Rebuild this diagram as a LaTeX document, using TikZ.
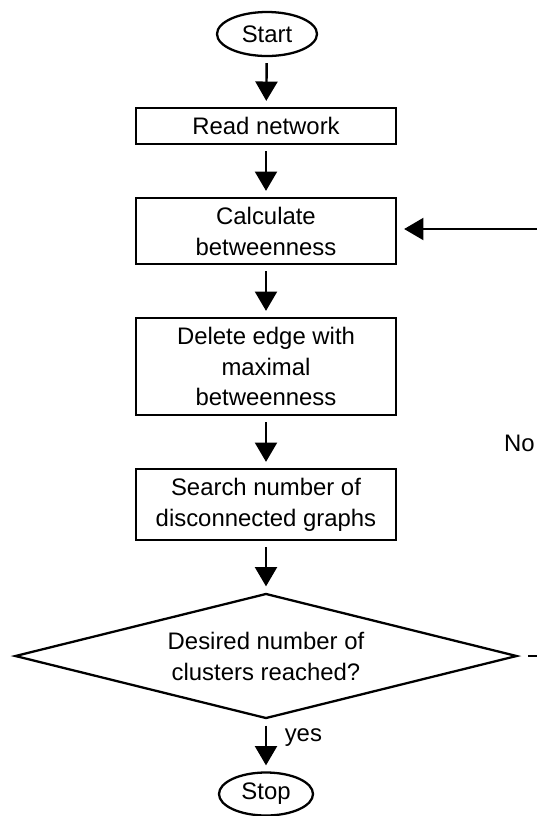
\documentclass[tikz,border=0pt]{standalone}
\usepackage{fontspec}
\setmainfont{Liberation Sans}
\usepackage{tikz}
\usetikzlibrary{positioning, arrows.meta, shapes.geometric}
\def\px{0.02cm}
\tikzset{
  procbox/.style={draw, line width=1.3pt, minimum width=260*\px, inner sep=2pt,
    align=center, font=\fontsize{13.6}{17.6}\selectfont},
  termbox/.style={draw, ellipse, line width=1.3pt, inner sep=0pt,
    font=\fontsize{13.6}{17.6}\selectfont},
  testbox/.style={draw, diamond, aspect=4, line width=1.3pt, inner sep=0pt, align=center,
    minimum width=502*\px, minimum height=125*\px, font=\fontsize{13.6}{17.6}\selectfont},
  flow/.style={-{Triangle[length=11pt, width=12.5pt]}, line width=1.4pt,
    shorten <=6*\px, shorten >=6*\px},
  smalltxt/.style={font=\fontsize{13.6}{17.6}\selectfont, inner sep=1pt},
}
\begin{document}
\begin{tikzpicture}[x=\px, y=-\px]
  \useasboundingbox (0,0) rectangle (537,816);
  % chain of steps
  \node[termbox, minimum width=100*\px, minimum height=44*\px] (start) at (267,34) {Start};
  \node[procbox, minimum height=36*\px] (read) at (266,126) {Read network};
  \node[procbox, minimum height=66*\px] (calc) at (266,231) {Calculate\\betweenness};
  \node[procbox, minimum height=97*\px] (del) at (266,366.5) {Delete edge with\\maximal\\betweenness};
  \node[procbox, minimum height=71*\px] (search) at (266,504.5) {Search number of\\disconnected graphs};
  \node[testbox] (test) at (266,656) {Desired number of\\clusters reached?};
  \node[termbox, minimum width=94*\px, minimum height=43*\px] (stop) at (266,794) {Stop};
  \draw[flow] (start) -- (read);
  \draw[flow] (read) -- (calc);
  \draw[flow] (calc) -- (del);
  \draw[flow] (del) -- (search);
  \draw[flow] (search) -- (test);
  \draw[flow] (test) -- (stop) node[smalltxt, pos=0.35, right=9pt] (yes) {yes};
  % loop back (cut at the right border)
  \coordinate (backin) at (537,229);
  \coordinate (backout) at (537,656);
  \draw[flow, shorten <=0pt, shorten >=7*\px] (backin) -- (calc.east |- backin);
  \draw[line width=1.3pt, shorten <=10*\px] (test.east) -- (backout);
  \node[smalltxt, anchor=west] (no) at (502,443) {No};
\end{tikzpicture}
\end{document}
